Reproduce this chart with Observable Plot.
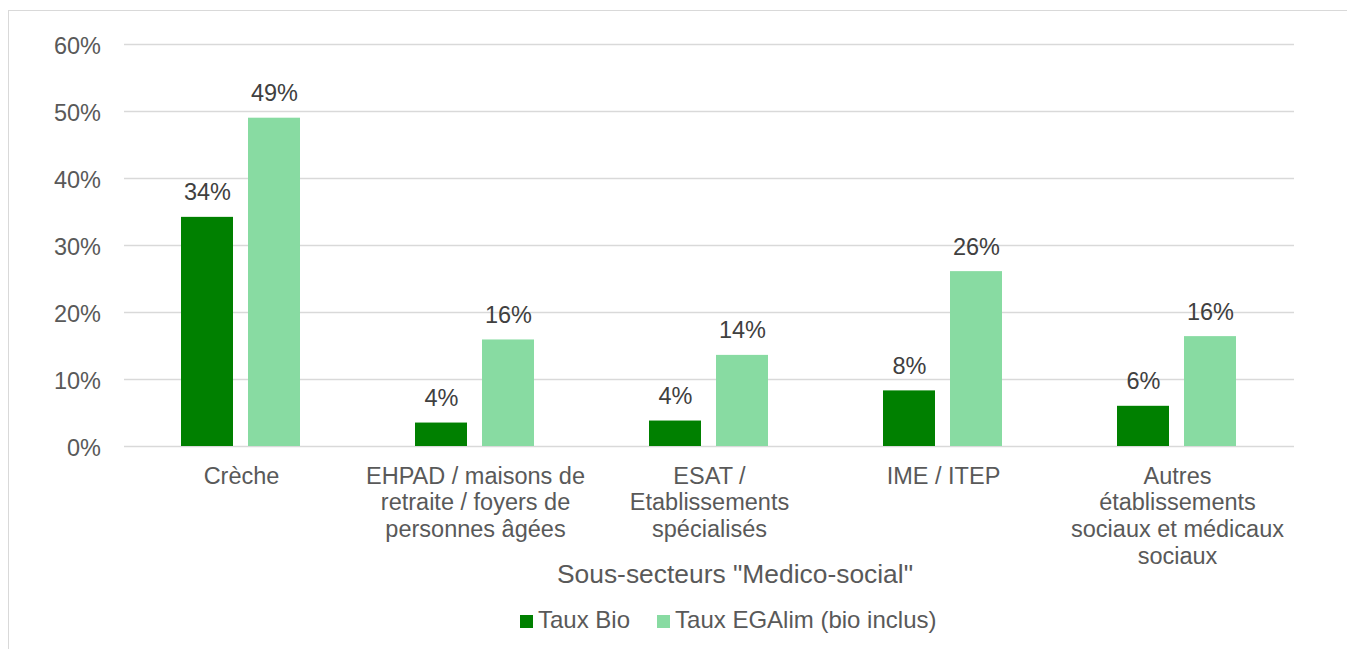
<!DOCTYPE html>
<html>
<head>
<meta charset="utf-8">
<script src="https://cdn.jsdelivr.net/npm/d3@7"></script>
<script src="https://cdn.jsdelivr.net/npm/@observablehq/plot@0.6"></script>
<style>
  html, body { margin: 0; padding: 0; background: #fff; overflow: hidden; width: 1347px; height: 649px; }
  body { position: relative; font-family: "Liberation Sans", Arial, sans-serif; }
  #frame { position: absolute; left: 8px; top: 10px; width: 1500px; height: 800px; border: 1.3px solid #d9d9d9; box-sizing: border-box; }
  #chart { position: absolute; left: 0; top: 0; }
  #title { position: absolute; left: 0; width: 1470px; top: 561px; text-align: center; font-size: 26.4px; line-height: 1; color: #595959; white-space: nowrap; }
  #legend { position: absolute; left: 520px; top: 608px; font-size: 24px; line-height: 1; color: #595959; white-space: nowrap; display: flex; align-items: center; }
  .sw { display: inline-block; width: 13px; height: 13px; margin-right: 5px; position: relative; top: 1px; }
  .item { display: inline-flex; align-items: center; margin-right: 27px; }
</style>
</head>
<body>
<div id="frame"></div>
<div id="chart"></div>
<div id="title"></div>
<div id="legend"></div>
<script>
const categories = [
  "Crèche",
  "EHPAD / maisons de retraite / foyers de personnes âgées",
  "ESAT / Etablissements spécialisés",
  "IME / ITEP",
  "Autres établissements sociaux et médicaux sociaux"
];
const categoryLabels = [
  "Crèche",
  "EHPAD / maisons de\nretraite / foyers de\npersonnes âgées",
  "ESAT /\nEtablissements\nspécialisés",
  "IME / ITEP",
  "Autres\nétablissements\nsociaux et médicaux\nsociaux"
];
const series = ["Taux Bio", "Taux EGAlim (bio inclus)"];
const tauxBio = [34.2, 3.5, 3.8, 8.3, 6.0];
const tauxEgalim = [49.0, 15.9, 13.6, 26.1, 16.4];
const yTicks = [0, 10, 20, 30, 40, 50, 60];
const colors = ["#008000", "#88DBA2"];
const axisTitle = "Sous-secteurs \"Medico-social\"";

const data = [];
categories.forEach((c, i) => {
  data.push({category: c, series: series[0], value: tauxBio[i]});
  data.push({category: c, series: series[1], value: tauxEgalim[i]});
});

const chart = Plot.plot({
  width: 1347,
  height: 560,
  marginLeft: 122,
  marginRight: 52,
  marginTop: 44,
  marginBottom: 114,
  style: {fontFamily: "'Liberation Sans', Arial, sans-serif", fontSize: "23.5px", color: "#595959", background: "transparent", overflow: "visible"},
  fx: {domain: categories, padding: 0, label: null, axis: null},
  x: {domain: series, paddingInner: 0.219, paddingOuter: 0.855, axis: null},
  y: {domain: [0, 60], axis: null},
  color: {domain: series, range: colors},
  marks: [
    Plot.ruleY(yTicks, {stroke: "#d9d9d9", strokeWidth: 1.3}),
    Plot.barY(data, {fx: "category", x: "series", y: "value", fill: "series"}),
    Plot.text(data, {fx: "category", x: "series", y: "value", text: d => Math.round(d.value) + "%", dy: -24.5, fill: "#404040", fontSize: 23.5}),
    Plot.axisY(yTicks, {tickSize: 0, tickPadding: 23.5, tickFormat: d => d + "%", fontSize: 23.5, dy: 1.5, label: null, fill: "#595959"}),
    Plot.axisFx({anchor: "bottom", tickSize: 0, tickPadding: 18.5, tickFormat: d => categoryLabels[categories.indexOf(d)], lineHeight: 1.13, label: null, fontSize: 23.5, fill: "#595959"})
  ]
});
document.getElementById("chart").appendChild(chart);

document.getElementById("title").textContent = axisTitle;
const legend = document.getElementById("legend");
series.forEach((s, i) => {
  const item = document.createElement("span");
  item.className = "item";
  const sw = document.createElement("span");
  sw.className = "sw";
  sw.style.background = colors[i];
  item.appendChild(sw);
  item.appendChild(document.createTextNode(s));
  legend.appendChild(item);
});
</script>
</body>
</html>
